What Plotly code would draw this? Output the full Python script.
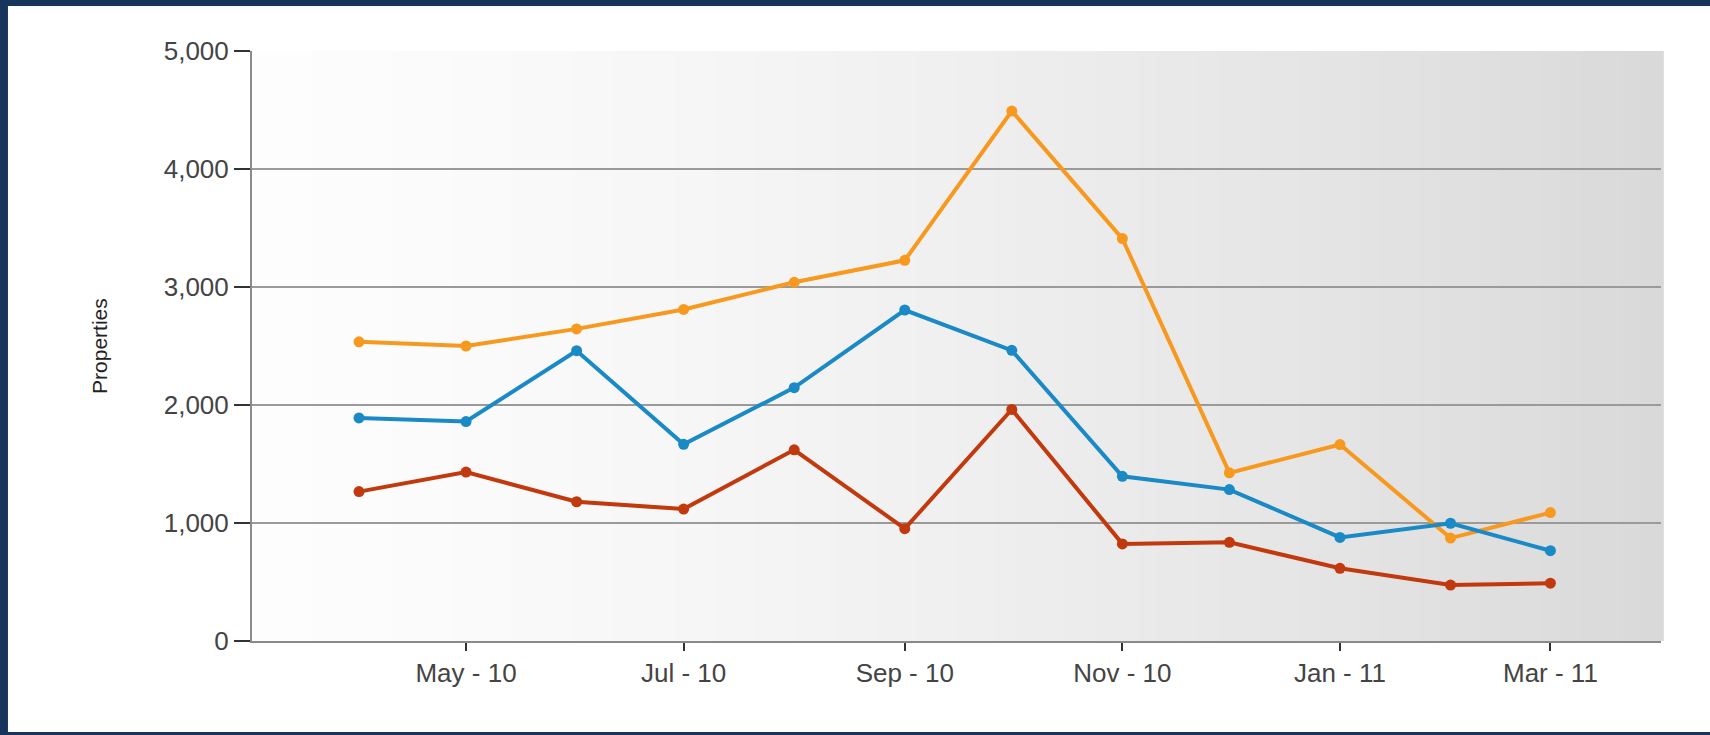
import plotly.graph_objects as go

months = ["2010-04-01", "2010-05-01", "2010-06-01", "2010-07-01", "2010-08-01", "2010-09-01",
          "2010-10-01", "2010-11-01", "2010-12-01", "2011-01-01", "2011-02-01", "2011-03-01"]
orange_vals = [2535, 2500, 2645, 2810, 3040, 3226, 4491, 3410, 1425, 1665, 872, 1088]
blue_vals = [1890, 1860, 2460, 1667, 2147, 2805, 2463, 1396, 1283, 878, 998, 765]
red_vals = [1266, 1432, 1180, 1118, 1620, 952, 1962, 823, 836, 616, 474, 490]

y_ticks = [0, 1000, 2000, 3000, 4000, 5000]

NAVY = "#17355c"
series = [
    (orange_vals, "#f8991f"),
    (blue_vals, "#1a8ac6"),
    (red_vals, "#c1390c"),
]

fig = go.Figure()
for vals, col in series:
    fig.add_trace(go.Scatter(
        x=months, y=vals, mode="lines+markers",
        line=dict(color=col, width=4),
        marker=dict(color=col, size=11),
        showlegend=False,
    ))

shapes = []
# white panel inside the navy frame
shapes.append(dict(type="rect", xref="paper", yref="paper",
                   x0=-0.1732, x1=1.2, y0=-0.1542, y1=1.0763,
                   fillcolor="white", line=dict(width=0), layer="below"))
# horizontal gradient in the plot area
n = 70
for i in range(n):
    t = (i + 0.5) / n
    g = t ** 1.4
    v = int(round(253 - (253 - 217) * g))
    shapes.append(dict(type="rect", xref="x domain", yref="y domain",
                       x0=i / n, x1=(i + 1) / n + 0.002, y0=0, y1=1,
                       fillcolor=f"rgb({v},{v},{v})", line=dict(width=0), layer="below"))

fig.update_layout(
    width=1710, height=735,
    margin=dict(l=252, r=49, t=51, b=94),
    paper_bgcolor=NAVY,
    plot_bgcolor="white",
    shapes=shapes,
    font=dict(family="Liberation Sans, Arial, sans-serif", color="#444444", size=26),
    annotations=[dict(text="Properties", textangle=-90, xref="paper", yref="paper",
                      x=-0.1086, y=0.5, xanchor="center", yanchor="middle",
                      showarrow=False,
                      font=dict(size=21, color="#222222"))],
)

fig.update_xaxes(
    type="date",
    range=["2010-03-02", "2011-04-01"],
    tick0="2010-05-01", dtick="M2", tickformat="%b - %y",
    ticks="outside", ticklen=8, tickwidth=2, tickcolor="#333333",
    showgrid=False, showline=True, linecolor="#8a8a8a", linewidth=2,
    tickfont=dict(size=26, color="#444444"),
    zeroline=False,
)
fig.update_yaxes(
    range=[0, 5000],
    tickvals=y_ticks, tickformat=",",
    ticks="outside", ticklen=16, tickwidth=2, tickcolor="#333333",
    showgrid=True, gridcolor="#9a9a9a", gridwidth=1.5,
    showline=True, linecolor="#8a8a8a", linewidth=2,
    tickfont=dict(size=26, color="#444444"),
    zeroline=False,
)

fig.write_html("out.html")
